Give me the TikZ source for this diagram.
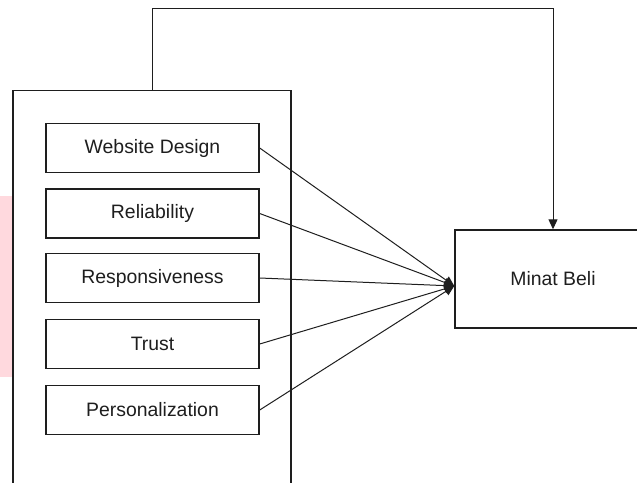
\documentclass[tikz,border=0pt]{standalone}
\usepackage{fontspec}
\setmainfont{Liberation Sans}
\usetikzlibrary{arrows.meta,calc}
\definecolor{pinkstrip}{RGB}{255,217,222}
\definecolor{ink}{RGB}{30,30,30}
\begin{document}
\begin{tikzpicture}[x=1pt,y=-1pt,
  box/.style={draw=ink,line width=1.4pt,fill=white,minimum width=213pt,minimum height=49pt,inner sep=0pt,
    font=\fontsize{19.4}{23}\selectfont,text=ink},
  grp/.style={draw=ink,line width=1.4pt,minimum width=278pt,minimum height=430pt,inner sep=0pt},
  mbox/.style={draw=ink,line width=1.4pt,minimum width=196pt,minimum height=98pt,inner sep=0pt,
    font=\fontsize{19.4}{23}\selectfont,text=ink},
  arr/.style={draw=ink,line width=1pt,-{Triangle[length=10pt,width=9pt]}}]
\useasboundingbox (0,0) rectangle (637,482);
\clip (0,0) rectangle (637,482);
\fill[pinkstrip] (0,196) rectangle (13,377);
\node[grp] (group) at (152,305.5) {};
\node[box] (wd) at (152.5,148) {Website Design};
\node[box] (rel) at (152.5,213.5) {Reliability};
\node[box] (resp) at (152.5,278) {Responsiveness};
\node[box] (tr) at (152.5,344) {Trust};
\node[box] (pers) at (152.5,410) {Personalization};
\node[mbox] (mb) at (553,279) {Minat Beli};
\coordinate (conv) at ([yshift=-7pt]mb.west);
\foreach \n in {wd,rel,resp,tr,pers}{
  \draw[arr] (\n.east) -- (conv);
}
\draw[arr] ([xshift=140pt]group.north west) -- ++(0,-81) -| (mb.north);
\end{tikzpicture}
\end{document}
